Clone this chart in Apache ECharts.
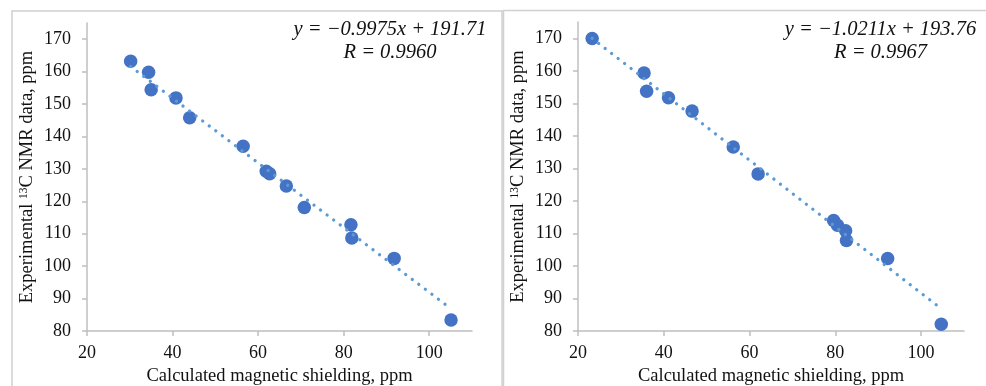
<!DOCTYPE html>
<html>
<head>
<meta charset="utf-8">
<title>13C NMR vs calculated shielding</title>
<script src="https://cdn.jsdelivr.net/npm/echarts@6/dist/echarts.min.js"></script>
<style>
  html, body { margin: 0; padding: 0; background: #fff; }
  #chart { width: 986px; height: 386px; }
</style>
</head>
<body>
<div id="chart"></div>
<script>
// left panel: calculated shielding (x) vs experimental shift (y)
const leftShielding = [30.2, 34.4, 35.0, 40.8, 44.0, 56.5, 61.9, 62.7, 66.6, 70.8, 81.7, 81.9, 91.8, 105.1];
const leftShift     = [163.2, 159.8, 154.4, 151.9, 145.8, 137.0, 129.3, 128.5, 124.7, 118.1, 112.8, 108.7, 102.4, 83.4];

// right panel
const rightShielding = [23.3, 35.4, 36.0, 41.1, 46.6, 56.2, 62.0, 79.6, 80.5, 82.4, 82.6, 92.2, 104.7];
const rightShift     = [169.9, 159.3, 153.7, 151.7, 147.6, 136.6, 128.3, 114.0, 112.5, 110.8, 107.8, 102.3, 82.1];

// fitted lines as printed on the chart
const leftFit  = { slope: -0.9975, intercept: 191.71, label: 'y = \u22120.9975x + 191.71', r: 'R = 0.9960' };
const rightFit = { slope: -1.0211, intercept: 193.76, label: 'y = \u22121.0211x + 193.76', r: 'R = 0.9967' };

const xTicks = [20, 40, 60, 80, 100];
const yTicks = [80, 90, 100, 110, 120, 130, 140, 150, 160, 170];

const xName = 'Calculated magnetic shielding, ppm';
const yName = 'Experimental {sup|13}C NMR data, ppm';

const FONT = '"Liberation Serif", "DejaVu Serif", serif';
const AXIS_GREY = '#bfbfbf';
const MARKER = '#4472c4';
const TREND = '#5b9bd5';

const zip = (xs, ys) => xs.map((x, i) => [x, ys[i]]);

function fitLine(xs, fit) {
    const lo = Math.min(...xs), hi = Math.max(...xs);
    return [[lo, fit.slope * lo + fit.intercept], [hi, fit.slope * hi + fit.intercept]];
}

function makeXAxis(gridIndex) {
    return {
        type: 'value',
        gridIndex,
        min: 20,
        max: 110,
        name: xName,
        nameLocation: 'middle',
        nameGap: 34,
        nameTextStyle: { fontFamily: FONT, fontSize: 18.5, color: '#111' },
        axisLine: { onZero: false, lineStyle: { color: AXIS_GREY, width: 1.5 } },
        axisTick: { show: true, length: 5, customValues: xTicks, lineStyle: { color: AXIS_GREY, width: 1.5 } },
        axisLabel: { customValues: xTicks, margin: 13, fontFamily: FONT, fontSize: 18, color: '#111' },
        splitLine: { show: false }
    };
}

function makeYAxis(gridIndex) {
    return {
        type: 'value',
        gridIndex,
        min: 80,
        max: 175,
        name: yName,
        nameLocation: 'middle',
        nameGap: 50,
        nameTextStyle: {
            fontFamily: FONT, fontSize: 18.5, color: '#111',
            rich: { sup: { fontFamily: FONT, fontSize: 11.5, color: '#111', verticalAlign: 'top' } }
        },
        axisLine: { show: true, onZero: false, lineStyle: { color: AXIS_GREY, width: 1.5 } },
        axisTick: { show: true, length: 5, customValues: yTicks, lineStyle: { color: AXIS_GREY, width: 1.5 } },
        axisLabel: { customValues: yTicks, margin: 16, fontFamily: FONT, fontSize: 18, color: '#111' },
        splitLine: { show: false }
    };
}

function eqText(cx, fit) {
    const style = { font: 'italic 20.5px ' + FONT, fill: '#111', textAlign: 'center', textVerticalAlign: 'middle' };
    return [
        { type: 'text', x: cx, y: 30, style: Object.assign({ text: fit.label }, style) },
        { type: 'text', x: cx, y: 53, style: Object.assign({ text: fit.r }, style) }
    ];
}

const chart = echarts.init(document.getElementById('chart'), null, { renderer: 'canvas' });

chart.setOption({
    animation: false,
    grid: [
        { left: 87, top: 23, width: 385, bottom: 55, outerBoundsMode: 'none' },
        { left: 578, top: 22, width: 386, bottom: 55, outerBoundsMode: 'none' }
    ],
    xAxis: [makeXAxis(0), makeXAxis(1)],
    yAxis: [makeYAxis(0), makeYAxis(1)],
    series: [
        {
            type: 'scatter', xAxisIndex: 0, yAxisIndex: 0,
            data: zip(leftShielding, leftShift),
            symbolSize: 13.5, itemStyle: { color: MARKER, opacity: 1 }, z: 2
        },
        {
            type: 'line', xAxisIndex: 0, yAxisIndex: 0,
            data: fitLine(leftShielding, leftFit), symbol: 'none',
            lineStyle: { color: TREND, width: 3.3, type: [0.01, 8.2], cap: 'round' }, z: 3
        },
        {
            type: 'scatter', xAxisIndex: 1, yAxisIndex: 1,
            data: zip(rightShielding, rightShift),
            symbolSize: 13.5, itemStyle: { color: MARKER, opacity: 1 }, z: 2
        },
        {
            type: 'line', xAxisIndex: 1, yAxisIndex: 1,
            data: fitLine(rightShielding, rightFit), symbol: 'none',
            lineStyle: { color: TREND, width: 3.3, type: [0.01, 8.2], cap: 'round' }, z: 3
        }
    ],
    graphic: [
        // panel frames
        { type: 'rect', shape: { x: 12, y: 11, width: 490, height: 420 }, style: { fill: null, stroke: '#d0d0d0', lineWidth: 1.5 }, silent: true },
        { type: 'rect', shape: { x: 503.5, y: 10.5, width: 520, height: 420 }, style: { fill: null, stroke: '#d0d0d0', lineWidth: 1.5 }, silent: true },
        ...eqText(390, leftFit),
        ...eqText(880.5, rightFit)
    ]
});
</script>
</body>
</html>
